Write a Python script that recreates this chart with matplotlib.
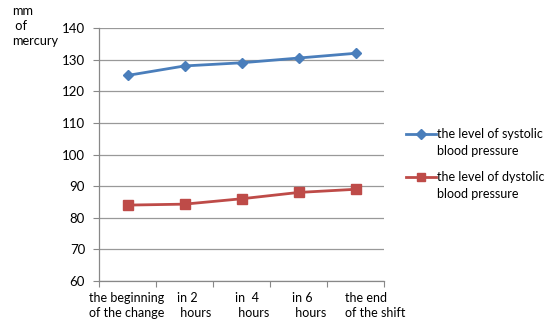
import matplotlib
matplotlib.use("Agg")
import matplotlib.pyplot as plt
from matplotlib.lines import Line2D
from matplotlib.transforms import blended_transform_factory

plt.rcParams['font.family'] = ['Lato', 'DejaVu Sans']

categories = ["the beginning\nof the change", "in 2\n hours", "in  4\n hours", "in 6\n hours", "the end\nof the shift"]
systolic = [125, 128, 129, 130.5, 132]
diastolic = [84, 84.3, 86, 88, 89]
series_names = [("the level of systolic", "blood pressure"), ("the level of dystolic", "blood pressure")]
y_ticks = [60, 70, 80, 90, 100, 110, 120, 130, 140]

W, H = 547, 326
fig = plt.figure(figsize=(W / 100, H / 100), dpi=100)
ax = fig.add_axes([99 / W, 1 - 281 / H, 285 / W, 253 / H])

x = list(range(len(categories)))
blue = "#4A7EBB"
red = "#BE4B48"
styles = [dict(color=blue, marker="D", markersize=5.5), dict(color=red, marker="s", markersize=7)]
ax.plot(x, systolic, lw=2.0, zorder=3, **styles[0])
ax.plot(x, diastolic, lw=2.0, zorder=3, **styles[1])

ax.set_xlim(-0.5, len(categories) - 0.5)
ax.set_ylim(60, 140)
ax.set_yticks(y_ticks)
ax.yaxis.grid(True, color="#999999", lw=0.9)
ax.set_axisbelow(True)

for s in ["top", "right"]:
    ax.spines[s].set_visible(False)
for s in ["left", "bottom"]:
    ax.spines[s].set_color("#888888")
    ax.spines[s].set_linewidth(0.9)

# tick marks at category boundaries, labels placed by hand
ax.set_xticks([i - 0.5 for i in range(len(categories) + 1)])
ax.set_xticklabels([])
ax.tick_params(axis="x", direction="out", length=4, color="#888888")
ax.tick_params(axis="y", direction="out", length=4, color="#888888", labelsize=9.5, pad=6)

label_shift = [-0.68, -0.14, -0.12, -0.12, -0.18]
trans = blended_transform_factory(ax.transData, fig.transFigure)
for i, (lab, dx) in enumerate(zip(categories, label_shift)):
    fig.text(i + dx, 1 - 292 / H, lab, transform=trans, ha="left", va="top",
             fontsize=9, linespacing=1.3)

fig.text(12 / W, 1 - 5 / H, "mm\n of\nmercury", ha="left", va="top", fontsize=9.2, linespacing=1.3)

# legend: handle aligned with the first line of each two-line label
legend_rows = [134, 177]
for (first, second), st, yrow in zip(series_names, styles, legend_rows):
    yf = 1 - yrow / H
    fig.add_artist(Line2D([406 / W, 436 / W], [yf, yf], transform=fig.transFigure, lw=2.0,
                          color=st["color"]))
    fig.add_artist(Line2D([421 / W], [yf], transform=fig.transFigure, lw=0, color=st["color"],
                          marker=st["marker"], markersize=st["markersize"] * 0.85))
    fig.text(437 / W, yf, first, ha="left", va="center", fontsize=9.0)
    fig.text(437 / W, 1 - (yrow + 17) / H, second, ha="left", va="center", fontsize=9.0)

fig.savefig("out.png", dpi=100)
